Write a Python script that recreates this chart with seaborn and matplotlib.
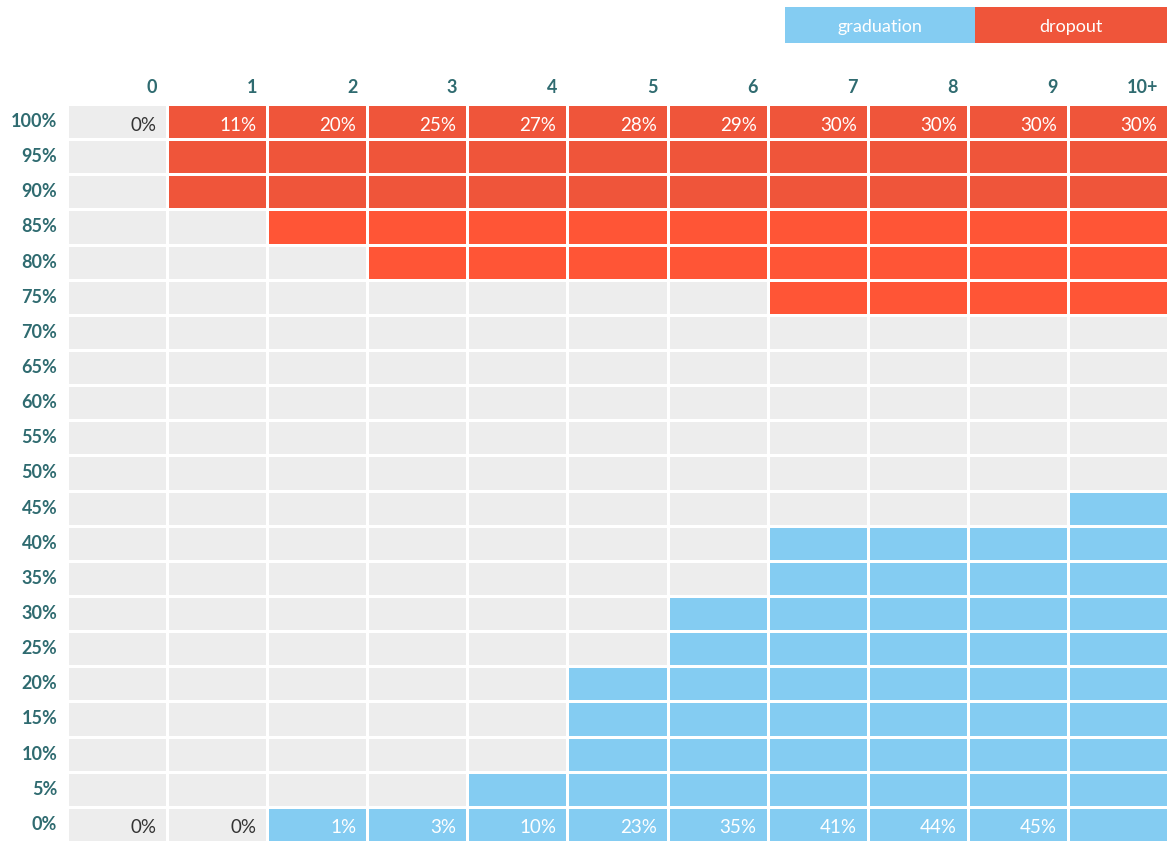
import numpy as np
import matplotlib
matplotlib.use("Agg")
import matplotlib.pyplot as plt
from matplotlib.colors import ListedColormap
from matplotlib.patches import Rectangle
import seaborn as sns

# ---- data ----
columns = ["0", "1", "2", "3", "4", "5", "6", "7", "8", "9", "10+"]
row_labels = ["100%", "95%", "90%", "85%", "80%", "75%", "70%", "65%", "60%", "55%",
              "50%", "45%", "40%", "35%", "30%", "25%", "20%", "15%", "10%", "5%", "0%"]
dropout_labels = ["0%", "11%", "20%", "25%", "27%", "28%", "29%", "30%", "30%", "30%", "30%"]
dropout_cells = [0, 3, 4, 5, 5, 5, 5, 6, 6, 6, 6]
graduation_labels = ["0%", "0%", "1%", "3%", "10%", "23%", "35%", "41%", "44%", "45%", ""]
graduation_cells = [0, 0, 1, 1, 2, 5, 7, 9, 9, 9, 10]

GREY = "#ededed"
RED_DARK = "#ef553a"
RED = "#ff5536"
BLUE = "#84ccf2"
HEAD = "#2f6b70"
DARKTXT = "#333333"

n_rows, n_cols = len(row_labels), len(columns)
mat = np.zeros((n_rows, n_cols))
for c in range(n_cols):
    for r in range(dropout_cells[c]):
        mat[r, c] = 1 if r < 3 else 2
    for k in range(graduation_cells[c]):
        mat[n_rows - 1 - k, c] = 3

sns.set_theme(style="white")
plt.rcParams["font.family"] = ["Lato", "DejaVu Sans"]

fig = plt.figure(figsize=(11.74, 8.42), dpi=100)
ax = fig.add_axes([67 / 1174, 0.0, (1168 - 67) / 1174, (842 - 104) / 842])
cmap = ListedColormap([GREY, RED_DARK, RED, BLUE])
sns.heatmap(mat, cmap=cmap, vmin=-0.5, vmax=3.5, linewidths=1.0, linecolor="white",
            cbar=False, ax=ax, xticklabels=columns, yticklabels=row_labels)

# ticks
ax.xaxis.tick_top()
ax.set_xticks(np.arange(n_cols) + 0.9)
ax.set_xticklabels(columns, ha="right", fontsize=13, fontweight="bold", color=HEAD)
ax.set_yticks(np.arange(n_rows) + 0.5)
ax.set_yticklabels(row_labels, rotation=0, fontsize=13, fontweight="bold", color=HEAD)
ax.tick_params(axis="both", length=0)
ax.tick_params(axis="x", pad=6)
ax.tick_params(axis="y", pad=7)
ax.set_xlabel("")
ax.set_ylabel("")
for s in ax.spines.values():
    s.set_visible(False)

# cell labels
for c in range(n_cols):
    col_d = "white" if dropout_cells[c] > 0 else DARKTXT
    ax.text(c + 0.89, 0.6, dropout_labels[c], ha="right", va="center",
            fontsize=13.5, color=col_d)
    col_g = "white" if graduation_cells[c] > 0 else DARKTXT
    ax.text(c + 0.89, n_rows - 0.4, graduation_labels[c], ha="right", va="center",
            fontsize=13.5, color=col_g)

# legend boxes
fig.add_artist(Rectangle((785 / 1174, 1 - 43 / 842), 190 / 1174, 36 / 842,
                         transform=fig.transFigure, facecolor=BLUE, edgecolor="none"))
fig.add_artist(Rectangle((975 / 1174, 1 - 43 / 842), 192 / 1174, 36 / 842,
                         transform=fig.transFigure, facecolor=RED_DARK, edgecolor="none"))
fig.text(880 / 1174, 1 - 27 / 842, "graduation", ha="center", va="center",
         fontsize=13, color="white")
fig.text(1071 / 1174, 1 - 27 / 842, "dropout", ha="center", va="center",
         fontsize=13, color="white")

fig.savefig("out.png", dpi=100, facecolor="white")
